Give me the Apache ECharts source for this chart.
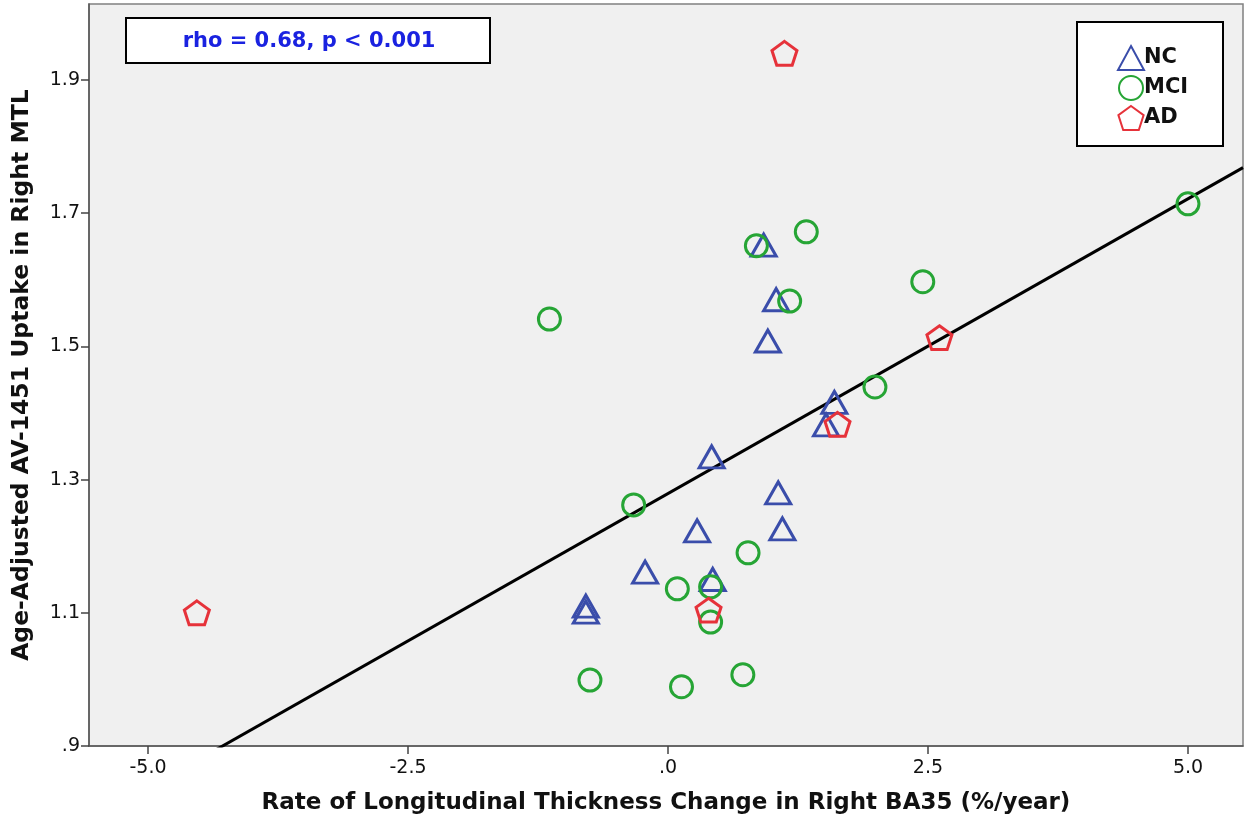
<!DOCTYPE html>
<html>
<head>
<meta charset="utf-8">
<script src="https://cdn.jsdelivr.net/npm/echarts@6/dist/echarts.min.js"></script>
<style>
html,body{margin:0;padding:0;background:#fff;}
#chart{width:1246px;height:822px;}
</style>
</head>
<body>
<div id="chart"></div>
<script>
// ---- data (x: % per year, y: uptake) ----
const ncData = [
  [0.92, 1.652], [1.04, 1.570], [0.96, 1.508], [1.60, 1.416], [1.52, 1.382],
  [0.42, 1.334], [1.06, 1.280], [0.28, 1.223], [1.10, 1.226], [-0.22, 1.161],
  [0.43, 1.150], [-0.79, 1.110], [-0.79, 1.101]
];
const mciData = [
  [-1.14, 1.541], [0.85, 1.651], [1.33, 1.672], [1.17, 1.568], [2.45, 1.597],
  [5.00, 1.714], [1.99, 1.439], [-0.33, 1.262], [0.77, 1.190], [0.09, 1.136],
  [0.41, 1.139], [0.41, 1.086], [-0.75, 0.999], [0.13, 0.989], [0.72, 1.007]
];
const adData = [
  [1.12, 1.940], [2.61, 1.513], [1.63, 1.383], [0.39, 1.104], [-4.53, 1.100]
];
const fitSlope = 0.0885;
const fitIntercept = 1.279;
const xTicks = [-5, -2.5, 0, 2.5, 5];
const yTicks = [0.9, 1.1, 1.3, 1.5, 1.7, 1.9];
const seriesNames = ['NC', 'MCI', 'AD'];
const annotation = 'rho = 0.68, p < 0.001';
const xTitle = 'Rate of Longitudinal Thickness Change in Right BA35 (%/year)';
const yTitle = 'Age-Adjusted AV-1451 Uptake in Right MTL';

const xMin = -5.567, xMax = 5.529, yMin = 0.9, yMax = 2.014;
const fitLine = [[xMin, fitIntercept + fitSlope * xMin], [xMax, fitIntercept + fitSlope * xMax]];

function fmt(v) {
  let s = Number(v).toFixed(1);
  return s.replace(/^(-?)0\./, '$1.');
}

const FONT = '"DejaVu Sans", sans-serif';
const pentagon = 'path://M0,-1 L0.951,-0.309 L0.588,0.809 L-0.588,0.809 L-0.951,-0.309 Z';
const colors = {NC: '#3a4daa', MCI: '#26a535', AD: '#e6323a'};

function scatter(name, data, symbol, size) {
  return {
    name: name, type: 'scatter', data: data, symbol: symbol, symbolSize: size,
    symbolKeepAspect: true,
    itemStyle: {color: 'rgba(0,0,0,0)', borderColor: colors[name], borderWidth: 3, opacity: 1},
    emphasis: {disabled: true}, z: 3
  };
}

const chart = echarts.init(document.getElementById('chart'), null, {renderer: 'canvas'});
chart.setOption({
  animation: false,
  backgroundColor: '#ffffff',
  grid: {left: 89, right: 3, top: 4, bottom: 76, show: true, backgroundColor: '#f0f0f0', borderColor: '#808080', borderWidth: 1.5},
  xAxis: {
    type: 'value', min: xMin, max: xMax,
    splitLine: {show: false},
    axisLine: {onZero: false, lineStyle: {color: '#555', width: 1.5}},
    axisTick: {show: true, length: 8, lineStyle: {color: '#444', width: 1.5}, customValues: xTicks},
    axisLabel: {customValues: xTicks, formatter: fmt, color: '#111', fontFamily: FONT, fontSize: 19, margin: 13},
    name: xTitle, nameLocation: 'middle', nameGap: 46,
    nameTextStyle: {fontFamily: FONT, fontWeight: 'bold', fontSize: 23, color: '#111'}
  },
  yAxis: {
    type: 'value', min: yMin, max: yMax,
    splitLine: {show: false},
    axisLine: {onZero: false, lineStyle: {color: '#555', width: 1.5}},
    axisTick: {show: true, length: 8, lineStyle: {color: '#444', width: 1.5}, customValues: yTicks},
    axisLabel: {customValues: yTicks, formatter: fmt, color: '#111', fontFamily: FONT, fontSize: 19, margin: 9},
    name: yTitle, nameLocation: 'middle', nameGap: 55,
    nameTextStyle: {fontFamily: FONT, fontWeight: 'bold', fontSize: 23.5, color: '#111'}
  },
  legend: {
    data: seriesNames, orient: 'vertical', left: 1112, top: 40,
    itemWidth: 26, itemHeight: 24, itemGap: 4,
    textStyle: {fontFamily: FONT, fontWeight: 'bold', fontSize: 21, color: '#111', padding: [0,0,0,-5]},
    selectedMode: false
  },
  graphic: [
    {type: 'rect', shape: {x: 126, y: 18, width: 364, height: 45}, style: {fill: '#fff', stroke: '#000', lineWidth: 2}, z: 10},
    {type: 'text', x: 309, y: 42, style: {text: annotation, fill: '#1a22e0', font: 'bold 21px ' + FONT, textAlign: 'center', textVerticalAlign: 'middle'}, z: 11},
    {type: 'rect', shape: {x: 1077, y: 22, width: 146, height: 124}, style: {fill: '#fff', stroke: '#000', lineWidth: 2}, z: 0, zlevel: 0}
  ],
  series: [
    scatter('NC', ncData, 'triangle', [25, 22]),
    scatter('MCI', mciData, 'circle', 22),
    scatter('AD', adData, pentagon, 25),
    {
      type: 'line', data: fitLine, symbol: 'none', clip: true,
      lineStyle: {color: '#000', width: 3}, z: 2, emphasis: {disabled: true}
    }
  ]
});
</script>
</body>
</html>
